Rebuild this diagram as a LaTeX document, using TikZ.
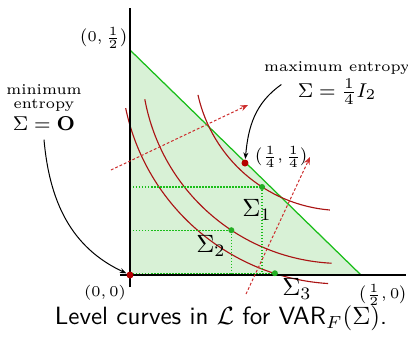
\documentclass[tikz,border=0pt]{standalone}
\usepackage{amsmath,amssymb}
\usepackage{xcolor}
\definecolor{lvlred}{RGB}{170,20,20}
\definecolor{arrred}{RGB}{205,45,45}
\definecolor{dotred}{RGB}{180,0,0}
\definecolor{simgreen}{RGB}{25,190,25}
\definecolor{simfill}{RGB}{216,241,214}
\definecolor{ptgreen}{RGB}{35,175,35}
\usepackage{tikz}
\usetikzlibrary{arrows.meta,positioning,calc}
\newcommand{\lblsize}{\fontsize{6}{7}\selectfont}
\tikzset{
	axline/.style = {line width=0.75pt,black},
	lvl/.style    = {line width=0.45pt,lvlred},
	incr/.style   = {-{Stealth[length=3pt,width=2.4pt]},line width=0.4pt,
		arrred,dash pattern=on 1.1pt off 0.8pt},
	proj/.style   = {line width=0.5pt,simgreen,dash pattern=on 0.6pt off 0.6pt},
	rdot/.style   = {circle,fill=dotred,inner sep=0pt,minimum size=2.8pt},
	gdot/.style   = {circle,fill=ptgreen,inner sep=0pt,minimum size=2.4pt},
	ptlbl/.style  = {font=\lblsize,inner sep=0.5pt},
	slbl/.style   = {inner sep=0pt},
	note/.style   = {-{Stealth[length=2.6pt,width=2pt]},line width=0.4pt,black},
}

\begin{document}
\begin{tikzpicture}[x=0.4pt,y=0.4pt]
	\useasboundingbox (0,0) rectangle (408,342);
	%% Simplexe
	\coordinate (O)     at (130,67);
	\coordinate (apex)  at (130,292);
	\coordinate (foot)  at (361,67);
	\coordinate (C)     at (342,279);
	\fill[simfill] (O)--(apex)--(foot)--cycle;
	\draw[line width=0.5pt,simgreen] (apex)--(foot);
	
	%% Courbes de niveau
	\foreach \r/\a/\b in {147.5/192.5/265.3,200.5/190.4/267,221/191.8/266.4}
	\draw[lvl] ($(C)+(\a:\r)$) arc[start angle=\a,end angle=\b,radius=\r];
	
	%% Projections
	\coordinate (p1) at ($(C)+(237.2:147.5)$);
	\coordinate (p2) at ($(C)+(236.5:200.5)$);
	\coordinate (p3) at ($(C)+(252.3:220.7)$);
	\draw[proj] (O|-p1)--(p1)--(p1|-O);
	\draw[proj] (O|-p2)--(p2)--(p2|-O);
	\draw[proj] (O|-p3)--(p3);
	
	%% Axes
	\draw[axline] (120,67)--(406,67);
	\draw[axline] (130,55)--(130,334);
	
	%% Directions de croissance
	\coordinate (a1) at (111,172);
	\coordinate (b1) at (248,237);
	\coordinate (a2) at (246,48);
	\coordinate (b2) at (310,185);
	\draw[incr] (a1)--(b1);
	\draw[incr] (a2)--(b2);
	
	%% Points
	\node (s1)    [gdot] at (p1) {};
	\node (s2)    [gdot] at (p2) {};
	\node (s3)    [gdot] at (p3) {};
	\node (orig)  [rdot] at (O) {};
	\node (quart) [rdot] at (245,179) {};
	
	\node (origlbl)  [ptlbl] at (105,49)  {$(0,0)$};
	\node (apexlbl)  [ptlbl] at (104,304) {$\bigl(0,\frac{1}{2}\bigr)$};
	\node (footlbl)  [ptlbl] at (383,47)  {$\bigl(\frac{1}{2},0\bigr)$};
	\node (quartlbl) [ptlbl,right=1.6pt of quart,yshift=2.4pt]
	{$\bigl(\frac{1}{4},\frac{1}{4}\bigr)$};
	\node (s1lbl) [slbl] at (257,132) {$\Sigma_1$};
	\node (s2lbl) [slbl] at (211,96)  {$\Sigma_2$};
	\node (s3lbl) [slbl] at (297,53)  {$\Sigma_3$};
	
	%% Entropie
	\node (maxlbl) [font=\lblsize,inner sep=0.5pt] at (337,274) {maximum entropy};
	\node (maxeq)  [font=\footnotesize] at (337,250) {$\Sigma=\frac{1}{4}I_2$};
	\node (minlbl) [font=\lblsize,align=center] at (44,244)
	{minimum\\[-1.4pt]entropy};
	\node (mineq)  [font=\footnotesize] at (44,218) {$\Sigma=\mathbf{O}$};
	\draw[note] ([shift={(-3pt,3pt)}]maxeq.west) to[out=215,in=85] (quart);
	\draw[note] (mineq.south) to[out=-85,in=155] (orig);
	
	\node (cap) [font=\sffamily] at (221,24)
	{Level curves in $\mathcal{L}$ for $\mathsf{VAR}_F(\Sigma)$.};
\end{tikzpicture}
\end{document}
